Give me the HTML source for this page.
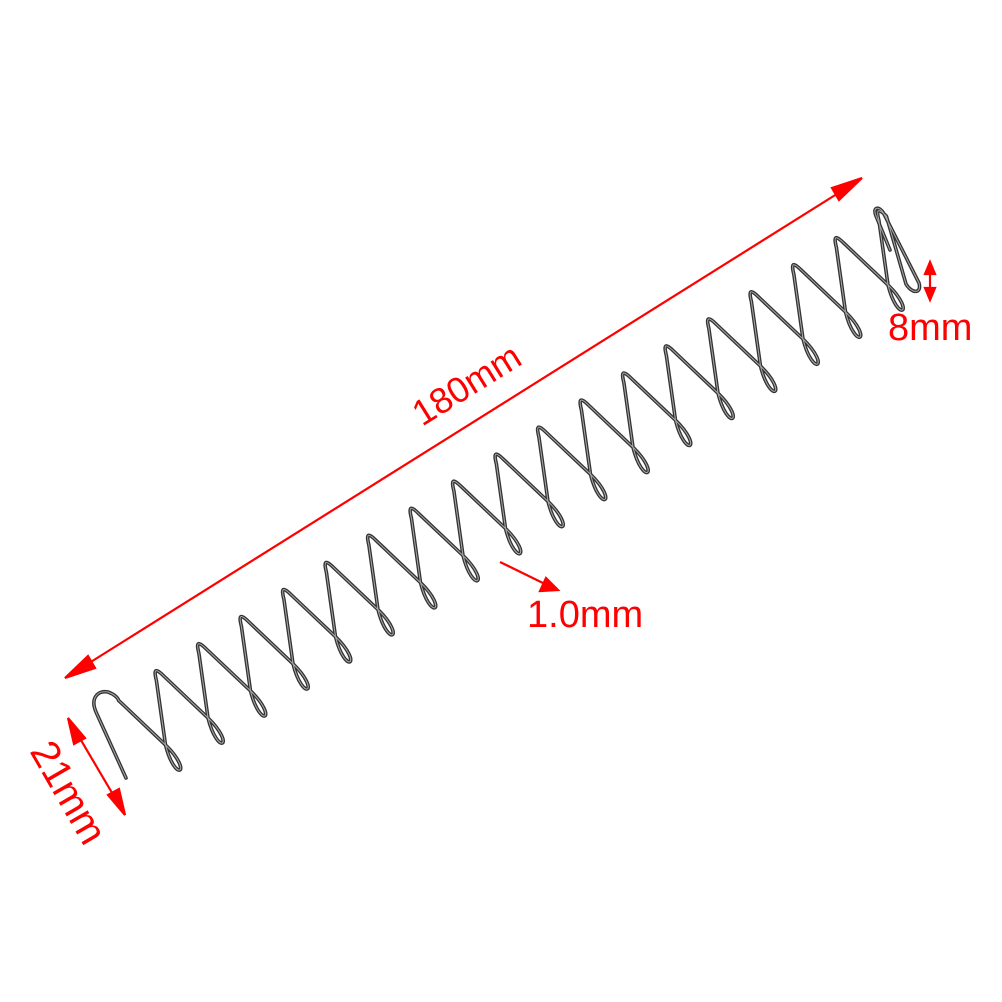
<!DOCTYPE html>
<html><head><meta charset="utf-8"><style>
html,body{margin:0;padding:0;background:#fff;width:1002px;height:1002px;overflow:hidden}
svg{display:block}
text{font-family:"Liberation Sans",sans-serif;fill:#ff0000}
</style></head><body>
<svg id="s" width="1002" height="1002" viewBox="0 0 1002 1002" xmlns="http://www.w3.org/2000/svg">
<g id="spring" fill="none" stroke-linecap="round" stroke-linejoin="round"></g>
<g stroke="#ff0000" stroke-width="2.2" fill="#ff0000">
<line x1="78" y1="670" x2="848" y2="187"/>
<polygon points="65,678 88,656 95,668"/>
<polygon points="862,178 839,200 832,188"/>
<line x1="75" y1="730" x2="118" y2="803"/>
<polygon points="68,718 85,738 74,744" />
<polygon points="125,815 108,795 119,789"/>
<line x1="930" y1="272" x2="930" y2="290"/>
<polygon points="930,262 925,274 935,274"/>
<polygon points="930,300 925,288 935,288"/>
<line x1="500" y1="562" x2="545" y2="584"/>
<polygon points="558,590 540,591 546,578"/>
</g>
<text x="0" y="0" font-size="36" transform="translate(468,387) rotate(-32)" text-anchor="middle" dominant-baseline="middle">180mm</text>
<text x="0" y="0" font-size="40" transform="translate(66,794) rotate(60)" text-anchor="middle" dominant-baseline="middle">21mm</text>
<text x="888" y="340" font-size="38">8mm</text>
<text x="527" y="627" font-size="38">1.0mm</text>
</svg>
<script>
(function(){
function n(x,y){var l=Math.hypot(x,y);return[x/l,y/l];}
function f(p){return p[0].toFixed(1)+","+p[1].toFixed(1);}
var P=[];for(var k=0;k<=18;k++)P.push([110+42.5*k,692-27.06*k]);
var u1=n(1,0.98), u2=n(-0.25,-1);
var d="M126,778 L96,712 C90,698 98,690 108,692 C114,694 118,698 "+f([P[0][0]+12*u1[0],P[0][1]+12*u1[1]]);
for(var k=0;k<18;k++){
 var T=[P[k+1][0]+26,P[k+1][1]+102];
 var X=[T[0]-13,T[1]-22];
 d+=" L"+f(X);
 d+=" C"+f([X[0]+40*u1[0],X[1]+40*u1[1]])+" "+f([X[0]-40*u2[0],X[1]-40*u2[1]])+" "+f(X);
 var p=P[k+1], pa=[p[0]-16*u2[0],p[1]-16*u2[1]], pb=[p[0]+16*u1[0],p[1]+16*u1[1]];
 d+=" L"+f(pa);
 d+=" C"+f([pa[0]+12*u2[0],pa[1]+12*u2[1]])+" "+f([pb[0]-12*u1[0],pb[1]-12*u1[1]])+" "+f(pb);
}
d+=" L906,284 C912,294 922,294 919,283 L884,214 C880,206 872,206 876,216 L890,250";
var g=document.getElementById("spring");
g.innerHTML='<path d="'+d+'" stroke="#333" stroke-width="3.6"/><path d="'+d+'" stroke="#aaa" stroke-width="1"/>';
})();
</script>
</body></html>
